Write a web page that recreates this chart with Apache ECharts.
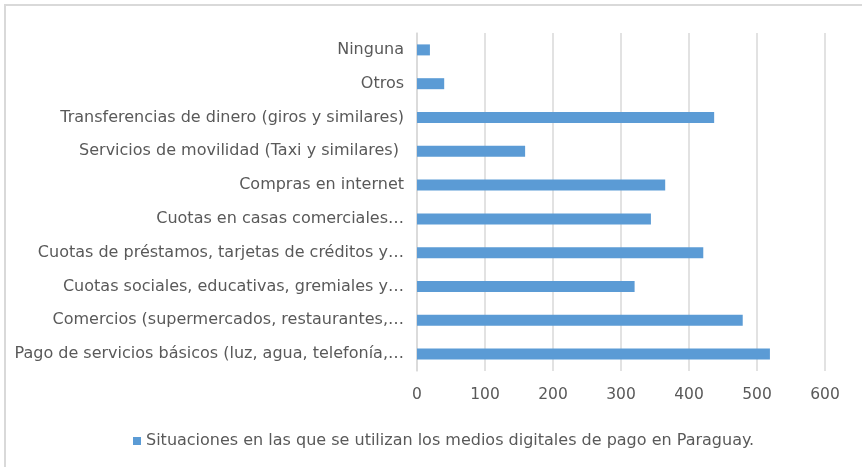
<!DOCTYPE html>
<html>
<head>
<meta charset="utf-8">
<script src="https://cdn.jsdelivr.net/npm/echarts@6/dist/echarts.min.js"></script>
<style>
  html, body { margin: 0; padding: 0; background: #fff; overflow: hidden; }
  #chart { width: 862px; height: 467px; }
  #frame { position: absolute; left: 4px; top: 4px; width: 856px; height: 461px;
           border-left: 2px solid #d9d9d9; border-top: 2px solid #d9d9d9; pointer-events: none; }
</style>
</head>
<body>
<div id="chart"></div>
<div id="frame"></div>
<script>
// categories listed bottom to top, as on the axis
var categories = [
    "Pago de servicios básicos (luz, agua, telefonía,…",
    "Comercios (supermercados, restaurantes,…",
    "Cuotas sociales, educativas, gremiales y…",
    "Cuotas de préstamos, tarjetas de créditos y…",
    "Cuotas en casas comerciales…",
    "Compras en internet",
    "Servicios de movilidad (Taxi y similares) ",
    "Transferencias de dinero (giros y similares)",
    "Otros",
    "Ninguna"
];
var values = [519, 479, 320, 421, 344, 365, 159, 437, 40, 19];
var xTicks = [0, 100, 200, 300, 400, 500, 600];
var seriesName = "Situaciones en las que se utilizan los medios digitales de pago en Paraguay.";

var myChart = echarts.init(document.getElementById('chart'));

var option = {
    animation: false,
    textStyle: {
        fontFamily: 'DejaVu Sans'
    },
    grid: {
        left: 417,
        right: 37,
        top: 33,
        bottom: 96
    },
    legend: {
        data: [seriesName],
        left: 128,
        top: 428,
        itemWidth: 8,
        itemHeight: 8,
        itemGap: 5,
        icon: 'rect',
        textStyle: {
            color: '#595959',
            fontSize: 16,
            fontFamily: 'DejaVu Sans'
        }
    },
    xAxis: {
        type: 'value',
        min: xTicks[0],
        max: xTicks[xTicks.length - 1],
        interval: 100,
        axisLine: { show: false },
        axisTick: { show: false },
        splitLine: {
            lineStyle: { color: '#d9d9d9', width: 1.5 }
        },
        axisLabel: {
            color: '#595959',
            fontSize: 15.5,
            margin: 16
        }
    },
    yAxis: {
        type: 'category',
        data: categories,
        axisLine: {
            lineStyle: { color: '#d9d9d9', width: 1.5 }
        },
        axisTick: { show: false },
        axisLabel: {
            color: '#595959',
            fontSize: 16,
            margin: 13
        }
    },
    series: [
        {
            name: seriesName,
            type: 'bar',
            data: values,
            barWidth: 11,
            itemStyle: {
                color: '#5b9bd5'
            }
        }
    ]
};

myChart.setOption(option);
</script>
</body>
</html>
